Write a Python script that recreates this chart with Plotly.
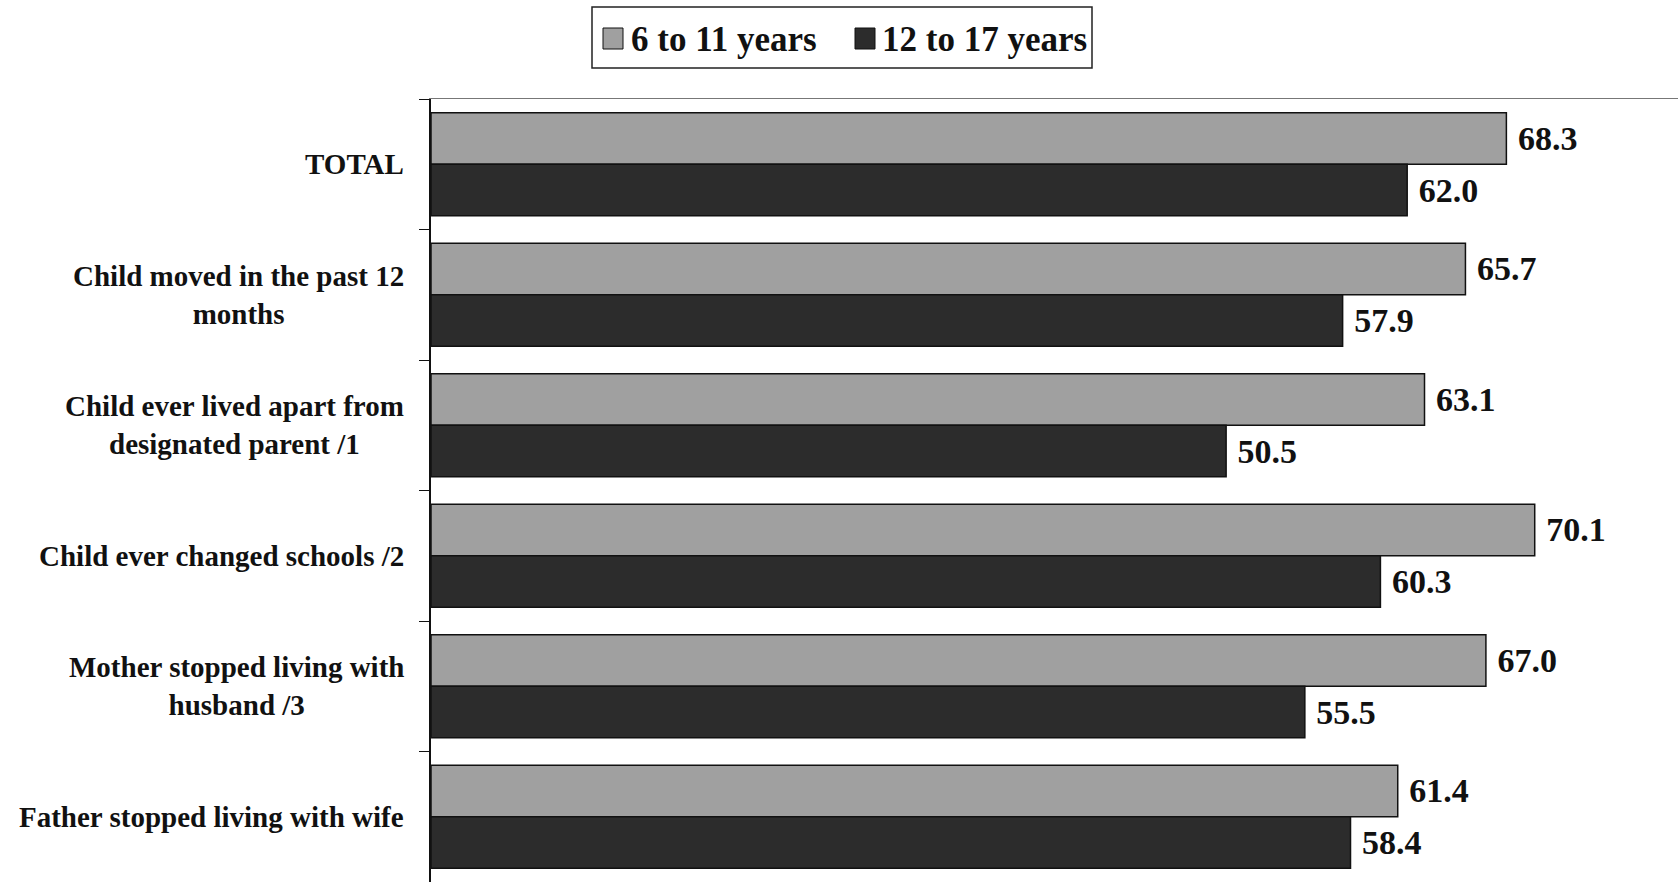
import plotly.graph_objects as go

# Data
categories = [
    "TOTAL",
    "Child moved in the past 12<br>months",
    "Child ever lived apart from<br>designated parent /1",
    "Child ever changed schools /2",
    "Mother stopped living with<br>husband /3",
    "Father stopped living with wife",
]
series_names = ["6 to 11 years", "12 to 17 years"]
ages_6_11 = [68.3, 65.7, 63.1, 70.1, 67.0, 61.4]
ages_12_17 = [62.0, 57.9, 50.5, 60.3, 55.5, 58.4]

# Figure geometry (pixels)
W, H = 1678, 882
ML, MR, MT, MB = 431, 0, 99, 0
PW, PH = W - ML - MR, H - MT - MB

FONT = "Liberation Serif, Times New Roman, serif"
LIGHT = "#a0a0a0"
DARK = "#2c2c2c"
colors = [LIGHT, DARK]


def px_x(p):
    return (p - ML) / PW


def px_y(p):
    return 1 - (p - MT) / PH


fig = go.Figure()
for name, vals, col in zip(series_names, [ages_6_11, ages_12_17], colors):
    fig.add_trace(go.Bar(
        name=name,
        y=categories,
        x=vals,
        orientation="h",
        marker=dict(color=col, line=dict(color="#111111", width=1.5)),
        text=[f"\u00a0<b>{v:.1f}</b>" for v in vals],
        textposition="outside",
        textfont=dict(family=FONT, size=34, color="#111111"),
        cliponaxis=False,
        showlegend=False,
    ))

# Category labels, centred line by line and right-aligned to the axis
annotations = []
for cat in categories:
    annotations.append(dict(
        x=0, xref="paper", y=cat, yref="y",
        xanchor="right", yanchor="middle", xshift=-25,
        text=f"<b>{cat}</b>", showarrow=False, align="center",
        font=dict(family=FONT, size=29, color="#111111"),
    ))

# Legend box with swatches
shapes = [
    dict(type="rect", xref="paper", yref="paper",
         x0=px_x(592), x1=px_x(1092), y0=px_y(68), y1=px_y(7),
         line=dict(color="#222222", width=1.5), fillcolor="white"),
]
legend_items = [(603, 629, LIGHT), (855, 880, DARK)]
for (sx, tx, col), name in zip(legend_items, series_names):
    shapes.append(dict(type="rect", xref="paper", yref="paper",
                       x0=px_x(sx), x1=px_x(sx + 20), y0=px_y(49), y1=px_y(28),
                       line=dict(color="#111111", width=1), fillcolor=col))
    annotations.append(dict(
        x=px_x(tx), xref="paper", y=px_y(39), yref="paper",
        xanchor="left", yanchor="middle", showarrow=False,
        text=f"<b>{name}</b>",
        font=dict(family=FONT, size=35, color="#111111"),
    ))

fig.update_layout(
    width=W, height=H,
    margin=dict(l=ML, r=MR, t=MT, b=MB, pad=0),
    paper_bgcolor="white", plot_bgcolor="white",
    barmode="group", bargap=0.21, bargroupgap=0.0,
    uniformtext=dict(mode=False),
    shapes=shapes,
    annotations=annotations,
)
fig.update_xaxes(
    range=[0, 79.2], showgrid=False, zeroline=False,
    showticklabels=False, ticks="",
    showline=True, mirror=True, linecolor="#777777", linewidth=1,
)
fig.update_yaxes(
    autorange="reversed", showgrid=False, showticklabels=False,
    ticks="outside", tickson="boundaries", ticklen=10,
    tickcolor="#111111", tickwidth=1,
    showline=True, linecolor="#111111", linewidth=2,
)

fig.write_html("out.html")
